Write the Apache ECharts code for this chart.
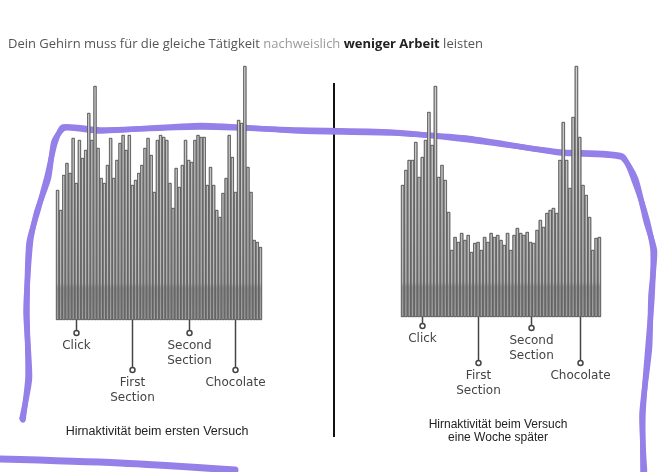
<!DOCTYPE html>
<html>
<head>
<meta charset="utf-8">
<script src="https://cdn.jsdelivr.net/npm/echarts@6/dist/echarts.min.js"></script>
<style>
  html, body { margin: 0; padding: 0; background: #fff; }
  #main { width: 668px; height: 472px; }
</style>
</head>
<body>
<div id="main"></div>
<script>
// activity per time slice, first try
var firstTry = [
  130, 110, 145, 157, 147, 182, 137, 180, 162, 170, 207, 180, 234, 172, 142, 137,
  155, 182, 142, 160, 177, 185, 170, 185, 135, 140, 147, 155, 172, 182, 165, 128,
  180, 185, 183, 180, 137, 112, 152, 133, 155, 180, 160, 158, 180, 185, 183, 183,
  135, 153, 135, 110, 103, 127, 142, 185, 163, 128, 200, 197, 254, 153, 128, 80,
  78, 73
];
// activity per time slice, one week later
var weekLater = [
  132, 147, 157, 157, 175, 140, 160, 177, 205, 172, 231, 140, 152, 137, 105, 67,
  80, 75, 84, 77, 82, 65, 74, 75, 67, 80, 75, 84, 80, 82, 77, 72,
  84, 67, 82, 89, 84, 82, 85, 75, 74, 87, 97, 90, 104, 107, 109, 104,
  157, 195, 157, 129, 200, 251, 180, 132, 122, 100, 67, 79, 80
];

var eventLabels = ['Click', 'First\nSection', 'Second\nSection', 'Chocolate'];
var eventsFirst = [6, 24, 42, 57];
var eventsLater = [6, 23, 39, 54];

var titleParts = ['Dein Gehirn muss für die gleiche Tätigkeit ', 'nachweislich', 'weniger Arbeit', 'leisten'];
var captionFirst = 'Hirnaktivität beim ersten Versuch';
var captionLater = 'Hirnaktivität beim Versuch\neine Woche später';

function idx(arr) {
  return arr.map(function (v, i) { return i; });
}

function barFill(y0, y1, band) {
  var b = (band - y0) / (y1 - y0);
  return {
    type: 'linear', x: 0, y: y0, x2: 0, y2: y1, global: true,
    colorStops: [
      { offset: 0, color: '#d2d2d2' },
      { offset: 0.55, color: '#c2c2c2' },
      { offset: b - 0.02, color: '#b6b6b6' },
      { offset: b, color: '#969696' },
      { offset: 1, color: '#a0a0a0' }
    ]
  };
}

var chart = echarts.init(document.getElementById('main'));

var option = {
  animation: false,
  backgroundColor: '#ffffff',
  title: {
    left: 8,
    top: 38,
    padding: 0,
    text: '{a|' + titleParts[0] + '}{b|' + titleParts[1] + '}{a| }{c|' + titleParts[2] + '}{a| ' + titleParts[3] + '}',
    textStyle: {
      fontWeight: 'normal',
      rich: {
        a: { fontFamily: 'Open Sans', fontSize: 13, color: '#555', fontWeight: 'normal' },
        b: { fontFamily: 'Open Sans', fontSize: 13, color: '#9a9a9a', fontWeight: 'normal' },
        c: { fontFamily: 'Open Sans', fontSize: 13, color: '#222', fontWeight: 'bold' }
      }
    }
  },
  grid: [
    { left: 56, width: 206, top: 60, height: 260 },
    { left: 401, width: 200, top: 57, height: 260 }
  ],
  xAxis: [
    { type: 'category', gridIndex: 0, data: idx(firstTry), show: false },
    { type: 'category', gridIndex: 1, data: idx(weekLater), show: false }
  ],
  yAxis: [
    { type: 'value', gridIndex: 0, min: 0, max: 260, show: false },
    { type: 'value', gridIndex: 1, min: 0, max: 260, show: false }
  ],
  series: [
    {
      type: 'bar', xAxisIndex: 0, yAxisIndex: 0, data: firstTry,
      barCategoryGap: '0%', silent: true,
      itemStyle: { color: barFill(60, 320, 288), borderColor: '#5c5c5c', borderWidth: 0.7 }
    },
    {
      type: 'bar', xAxisIndex: 1, yAxisIndex: 1, data: weekLater,
      barCategoryGap: '0%', silent: true,
      itemStyle: { color: barFill(57, 317, 287), borderColor: '#5c5c5c', borderWidth: 0.7 }
    }
  ]
};

chart.setOption(option);

// pins under the bars
var pinDepth = [13, 50, 13, 50];
var pinDepthLater = [9, 46, 11, 46];
var g = [];

function addPins(axis, events, base, depths) {
  events.forEach(function (ev, k) {
    var x = Math.round(chart.convertToPixel({ xAxisIndex: axis }, ev)) + 0.5;
    var cy = base + depths[k];
    g.push({ type: 'line', shape: { x1: x, y1: base, x2: x, y2: cy - 2.5 },
      style: { stroke: '#444', lineWidth: 1.5 } });
    g.push({ type: 'circle', shape: { cx: x, cy: cy, r: 2.5 },
      style: { fill: '#fff', stroke: '#444', lineWidth: 1.5 } });
    g.push({ type: 'text', x: x, y: cy + 6,
      style: { text: eventLabels[k], align: 'center', verticalAlign: 'top',
        fontFamily: 'DejaVu Sans', fontSize: 12, lineHeight: 14.5, fill: '#444' } });
  });
}
addPins(0, eventsFirst, 320, pinDepth);
addPins(1, eventsLater, 317, pinDepthLater);

g.push({ type: 'text', x: 157, y: 432,
  style: { text: captionFirst, align: 'center', verticalAlign: 'middle',
    fontFamily: 'Liberation Sans', fontSize: 12.5, fill: '#222' } });
g.push({ type: 'text', x: 498, y: 431,
  style: { text: captionLater, align: 'center', verticalAlign: 'middle',
    fontFamily: 'Liberation Sans', fontSize: 12, lineHeight: 13, fill: '#222' } });

// divider
g.push({ type: 'line', shape: { x1: 334, y1: 83, x2: 334, y2: 437 },
  style: { stroke: '#111', lineWidth: 2 } });

// hand drawn marker
var outline = [
  [23, 420], [28, 377], [27, 310], [29, 243], [38, 210], [47, 177], [55, 143], [63, 127],
  [100, 130], [200, 127], [300, 130], [390, 132], [470, 140], [560, 152], [622, 156],
  [634, 180], [647, 220], [653, 250], [652, 297], [648, 347], [643, 413], [643, 472]
];
var outline2 = outline.map(function (p, i) { return [p[0] + (i % 2 ? 1.5 : -1), p[1] + (i % 3 ? 1 : -1.5)]; });
[outline, outline2].forEach(function (pts) {
  g.push({ type: 'polyline', shape: { points: pts, smooth: 0.2 },
    style: { stroke: '#9480e8', lineWidth: 5.5, fill: null, lineCap: 'round', lineJoin: 'round' } });
});
g.push({ type: 'polyline', shape: { points: [[0, 459], [120, 463], [235, 470]], smooth: 0.3 },
  style: { stroke: '#9480e8', lineWidth: 7, fill: null, lineCap: 'round' } });

chart.setOption({ graphic: g });
</script>
</body>
</html>
